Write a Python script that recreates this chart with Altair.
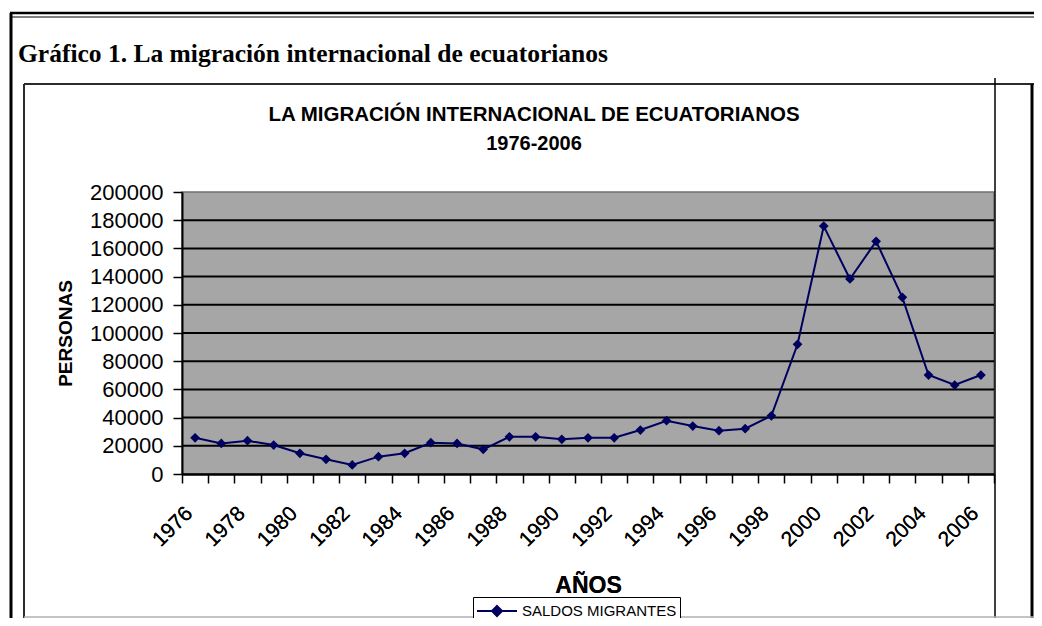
import altair as alt
import pandas as pd

# ---------------- data ----------------
years = list(range(1976, 2007))
saldos = [25700, 21700, 23600, 20500, 14700, 10400, 6400, 12300, 14700, 22200,
          21700, 17500, 26400, 26400, 24600, 25700, 25700, 31200, 37800, 34000,
          30700, 32100, 41300, 92000, 175800, 138300, 165000, 125300, 70200, 63100,
          70200]
series_name = "SALDOS MIGRANTES"
label_years = list(range(1976, 2007, 2))
tick_bounds = [y - 0.5 for y in range(1976, 2008)]
y_ticks = list(range(0, 200001, 20000))
grid_vals = list(range(20000, 180001, 20000))

page_title = "Gráfico 1. La migración internacional de ecuatorianos"
chart_title_1 = "LA MIGRACIÓN INTERNACIONAL DE ECUATORIANOS"
chart_title_2 = "1976-2006"

df = pd.DataFrame({"year": years, "saldo": saldos, "serie": [series_name] * len(years)})
bounds_df = pd.DataFrame({"year": tick_bounds})
grid_df = pd.DataFrame({"saldo": grid_vals})

W, H = 812, 282
NAVY = "#00005e"
FONT = "Liberation Sans"

xscale = alt.Scale(domain=[1975.5, 2006.5], nice=False, zero=False)
yscale = alt.Scale(domain=[0, 200000], nice=False, zero=True)

x_label_axis = alt.Axis(
    values=label_years, format="d", ticks=False, grid=False,
    labelAngle=-45, labelAlign="right", labelBaseline="middle",
    labelPadding=36, labelOffset=-6, labelFontSize=21, labelFont=FONT,
    labelColor="black", labelOverlap=False, labelFlush=False,
    domain=True, domainColor="black", domainWidth=2,
    title="AÑOS", titleFont=FONT, titleFontSize=23, titleFontWeight="bold",
    titleColor="black", titleY=118, titleBaseline="alphabetic", orient="bottom",
)
x_tick_axis = alt.Axis(
    values=tick_bounds, labels=False, ticks=True, tickSize=9, tickColor="black",
    tickWidth=1.5, domain=False, grid=False, title=None, orient="bottom",
)
y_axis = alt.Axis(
    values=y_ticks, format="d", grid=False, ticks=True, tickSize=9,
    tickColor="black", tickWidth=1.5, domain=True, domainColor="black",
    domainWidth=2, labelFontSize=22, labelFont=FONT, labelColor="black",
    labelPadding=10, labelOverlap=False, labelFlush=False,
    title="PERSONAS", titleFont=FONT, titleFontSize=19, titleFontWeight="bold",
    titleColor="black", titleAngle=-90, titleX=-117, titleY=H / 2,
    titleBaseline="middle", titleAlign="center",
)

base = alt.Chart(df)

grid = alt.Chart(grid_df).mark_rule(color="black", strokeWidth=2).encode(
    y=alt.Y("saldo:Q", scale=yscale, axis=y_axis)
)

line = base.mark_line(color=NAVY, strokeWidth=2).encode(
    x=alt.X("year:Q", scale=xscale, axis=x_label_axis),
    y=alt.Y("saldo:Q", scale=yscale, axis=y_axis),
)

points = base.mark_point(shape="diamond", filled=True, size=95, opacity=1).encode(
    x=alt.X("year:Q", scale=xscale, axis=x_label_axis),
    y=alt.Y("saldo:Q", scale=yscale, axis=y_axis),
    color=alt.Color(
        "serie:N",
        scale=alt.Scale(range=[NAVY]),
        legend=alt.Legend(
            title=None, orient="none", legendX=291, legendY=405,
            direction="horizontal",
            symbolType="M-2,0L2,0M0,-0.5L0.5,0L0,0.5L-0.5,0Z",
            symbolSize=400, symbolStrokeWidth=2, symbolStrokeColor=NAVY,
            symbolFillColor=NAVY, symbolOffset=10,
            labelFont=FONT, labelFontSize=15, labelColor="black",
            labelOffset=14, padding=3, strokeColor="black", fillColor="white",
            cornerRadius=0,
        ),
    ),
)

ticks = alt.Chart(bounds_df).mark_point(opacity=0).encode(
    x=alt.X("year:Q", scale=xscale, axis=x_tick_axis),
    y=alt.value(H),
)

# page / frame decorations (pixel offsets relative to plot origin)
def hline(tag, x1, x2, y, color="black", w=1.0):
    return alt.Chart(pd.DataFrame({"tag": [tag]})).mark_rule(
        color=color, strokeWidth=w
    ).encode(x=alt.value(x1), x2=alt.value(x2), y=alt.value(y))

def vline(tag, x, y1, y2, color="black", w=1.0):
    return alt.Chart(pd.DataFrame({"tag": [tag]})).mark_rule(
        color=color, strokeWidth=w
    ).encode(x=alt.value(x), y=alt.value(y1), y2=alt.value(y2))

frame = [
    hline("page_top_a", -172, 852, -179, "black", 2.5),
    hline("page_top_b", -172, 852, -175, "black", 1),
    vline("page_left", -171, -179, 434, "black", 3),
    hline("box_top", -158, 852, -108, "#2b2b2b", 2),
    vline("box_left", -158, -108, 434, "#2b2b2b", 2),
    vline("box_right", 850, -108, 434, "black", 3),
    vline("cell_line", 813, -114, 434, "black", 1.5),
    hline("box_bottom", -158, 852, 425, "#b0b0b0", 1.5),
]

def text_at(txt, x, y, font, size, align="left"):
    return alt.Chart(pd.DataFrame({"t": [txt]})).mark_text(
        font=font, fontSize=size, fontWeight="bold",
        align=align, baseline="alphabetic", color="black",
    ).encode(text="t:N", x=alt.value(x), y=alt.value(y))

heading = text_at(page_title, -164, -130, "Liberation Serif", 25.5)
title1 = text_at(chart_title_1, 352, -71, FONT, 20.5, "center")
title2 = text_at(chart_title_2, 352, -42, FONT, 20, "center")

chart = alt.layer(
    *frame, heading, title1, title2, grid, line, points, ticks
).resolve_axis(x="independent").properties(
    width=W, height=H,
    autosize=alt.AutoSizeParams(type="none"),
    padding={"left": 174, "top": 184, "right": 40, "bottom": 144},
).configure(background="white").configure_view(
    fill="#a6a6a6", stroke="#707070", strokeWidth=1.5
)

chart.save("out.html", embed_options={"renderer": "svg", "actions": False})
